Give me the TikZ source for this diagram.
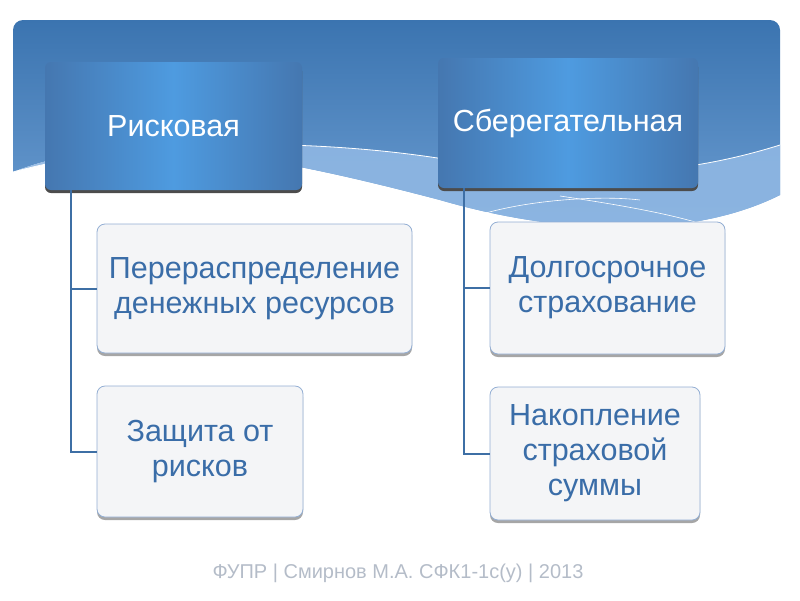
\documentclass[tikz,border=0pt]{standalone}
\usepackage{fontspec}
\setmainfont{Liberation Sans}
\usetikzlibrary{shadows,calc}

\definecolor{bandtop}{HTML}{3B74B0}
\definecolor{bandlow}{HTML}{6E9FD3}
\definecolor{swoosh}{HTML}{8FB7E3}
\definecolor{headedge}{HTML}{4577B0}
\definecolor{headmid}{HTML}{4E9BE0}
\definecolor{kidfill}{HTML}{F4F5F7}
\definecolor{kidline}{HTML}{93AED3}
\definecolor{kidtext}{HTML}{3A6DA8}
\definecolor{connblue}{HTML}{3E6FA5}
\definecolor{foot}{HTML}{B4BCC8}

\begin{document}
\begin{tikzpicture}[x=1pt,y=-1pt,
    head/.style={rounded corners=6pt, left color=headedge, right color=headedge,
        middle color=headmid, text=white, align=center,
        font=\fontsize{30.5}{34}\selectfont,
        drop shadow={shadow xshift=0pt, shadow yshift=-3pt, fill=black!70, opacity=1}},
    kid/.style={rounded corners=8pt, fill=kidfill, draw=kidline, line width=0.8pt,
        text=kidtext, align=center, font=\fontsize{30.5}{35}\selectfont,
        drop shadow={shadow xshift=0pt, shadow yshift=-3pt, fill=black!35, opacity=1}},
    conn/.style={connblue, line width=2pt}]
    \useasboundingbox (0,0) rectangle (800,600);
    % background band
    \path[top color=bandtop, bottom color=bandlow]
        (13,172) [rounded corners=10pt] -- (13,20) -- (780,20) [sharp corners] -- (780,195)
        .. controls (690,240) and (560,235) .. (440,200)
        .. controls (250,150) and (120,130) .. (13,172) -- cycle;
    \fill[swoosh, opacity=0.9] (13,172) .. controls (150,135) and (330,140) .. (450,160)
        .. controls (600,185) and (700,170) .. (780,145) -- (780,195)
        .. controls (690,240) and (560,235) .. (440,200)
        .. controls (250,150) and (120,130) .. (13,172) -- cycle;
    \draw[white, line width=0.8pt] (13,172) .. controls (150,135) and (330,140) .. (450,160)
        .. controls (600,185) and (700,170) .. (780,145);
    \draw[white, line width=0.6pt] (470,218) .. controls (520,200) and (600,195) .. (640,200);
    \draw[white, line width=0.6pt] (560,196) .. controls (620,205) and (680,215) .. (720,230);
    % top boxes
    \node[head, minimum width=257pt, minimum height=128pt] (risk) at (173.5,126) {Рисковая};
    \node[head, minimum width=260pt, minimum height=130pt] (save) at (568,123) {Сберегательная};
    % child boxes
    \node[kid, minimum width=315pt, minimum height=129pt] (redis) at (254.5,288.5) {Перераспределение\\денежных ресурсов};
    \node[kid, minimum width=206pt, minimum height=131pt] (protect) at (200,451.5) {Защита от\\рисков};
    \node[kid, minimum width=235pt, minimum height=132pt] (longterm) at (607.5,288) {Долгосрочное\\страхование};
    \node[kid, minimum width=210pt, minimum height=133pt] (accum) at (595,453.5) {Накопление\\страховой\\суммы};
    % connectors
    \draw[conn] ($(risk.south west)+(26,0)$) |- (protect.west);
    \draw[conn] ($(risk.south west)+(26,0)$) |- (redis.west);
    \draw[conn] ($(save.south west)+(26,0)$) |- (accum.west);
    \draw[conn] ($(save.south west)+(26,0)$) |- (longterm.west);
    % footer
    \node[foot, font=\fontsize{20}{24}\selectfont] (footer) at (398,573) {ФУПР | Смирнов М.А. СФК1-1с(у) | 2013};
\end{tikzpicture}
\end{document}
